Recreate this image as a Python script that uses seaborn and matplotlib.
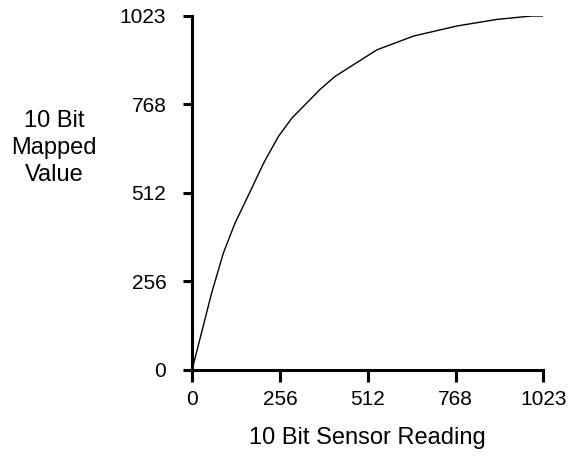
import numpy as np
import pandas as pd
import matplotlib
matplotlib.use("Agg")
import matplotlib.pyplot as plt
import seaborn as sns

# curve (sensor reading -> mapped value)
sensor = [0, 57, 91, 125, 169, 208, 251, 290, 373, 416, 538, 645, 771, 887, 989, 1023]
mapped = [0, 222, 337, 424, 515, 597, 674, 727, 811, 848, 925, 965, 994, 1013, 1023, 1023]
ticks = [0, 256, 512, 768, 1023]

df = pd.DataFrame({"sensor": sensor, "mapped": mapped})

sns.set_style("ticks")
plt.rcParams["font.family"] = ["Liberation Sans", "DejaVu Sans"]
plt.rcParams["text.color"] = "black"
plt.rcParams["axes.labelcolor"] = "black"

fig = plt.figure(figsize=(5.71, 4.57), dpi=100)
ax = fig.add_axes([0.3363, 0.1904, 0.6152, 0.7746])

sns.lineplot(data=df, x="sensor", y="mapped", color="black", linewidth=1.0, ax=ax)

ax.set_xlim(0, 1023)
ax.set_ylim(0, 1023)
ax.set_xticks(ticks)
ax.set_yticks(ticks)
ax.set_xticklabels([str(t) for t in ticks])
ax.set_yticklabels([str(t) for t in ticks])

for side in ["top", "right"]:
    ax.spines[side].set_visible(False)
for side in ["left", "bottom"]:
    ax.spines[side].set_linewidth(2.2)
    ax.spines[side].set_color("black")

ax.tick_params(axis="x", length=8.5, width=2.2, pad=6, labelsize=15, colors="black")
ax.tick_params(axis="y", length=6.5, width=2.2, pad=12, labelsize=15, colors="black")

ax.set_xlabel("10 Bit Sensor Reading", fontsize=17, labelpad=13)
ax.set_ylabel("10 Bit\nMapped\nValue", fontsize=17, rotation=0,
              ha="center", va="center", linespacing=1.3)
ax.yaxis.set_label_coords(-0.392, 0.627)

plt.savefig("out.png", dpi=100)
